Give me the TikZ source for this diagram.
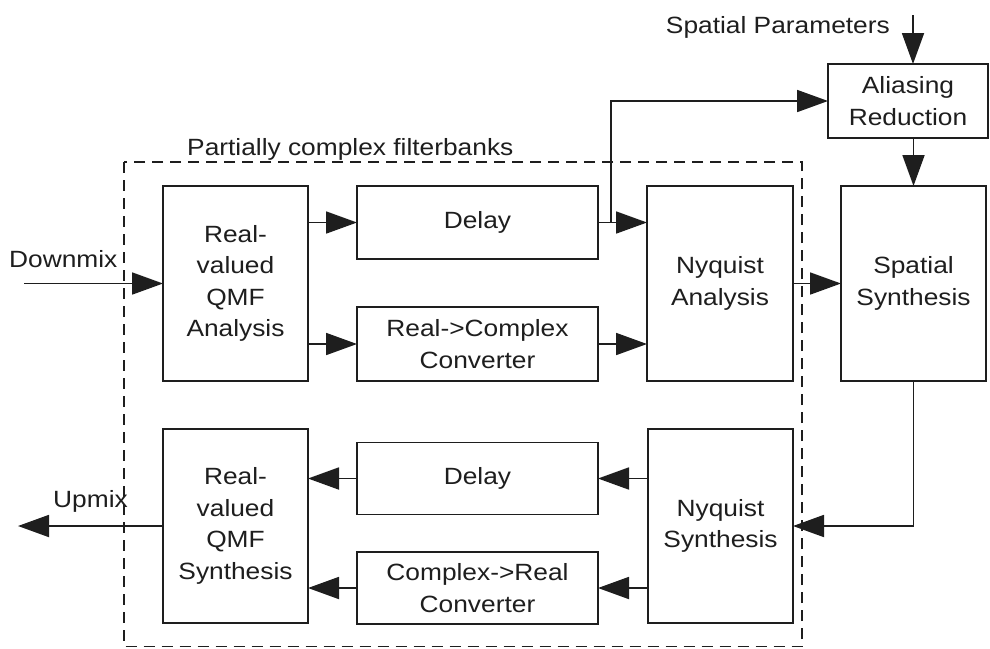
\documentclass[tikz,border=0pt]{standalone}
\usepackage{fontspec}
\setmainfont{Liberation Sans}[FakeStretch=1.12]
\usetikzlibrary{arrows.meta,calc}
\definecolor{ink}{RGB}{30,30,30}
\tikzset{
  blk/.style={draw=ink, line width=1.8pt, inner sep=0pt, outer sep=0pt, align=center, text=ink,
              font=\fontsize{23.5}{31.5}\selectfont},
  lbl/.style={text=ink, inner sep=0pt, font=\fontsize{23.5}{31.5}\selectfont},
  arr/.style={draw=ink, line width=1.8pt, -{Triangle[length=31pt,width=22pt]}},
  dashbox/.style={draw=ink, line width=1.8pt, dash pattern=on 11pt off 7pt}
}
\begin{document}
\begin{tikzpicture}[x=1pt,y=-1pt]
\useasboundingbox[fill=white] (0,0) rectangle (990,648);
% dashed frame
\draw[dashbox] (124,162) rectangle (802,646.5);
\node[lbl, anchor=base west] (lblpcf) at (187,155) {Partially complex filterbanks};
% blocks
\node[blk, minimum width=145pt, minimum height=195pt] (qa) at (235.5,283.5) {Real-\\valued\\QMF\\Analysis};
\node[blk, minimum width=241pt, minimum height=73pt] (d1) at (477.5,222.5) {Delay};
\node[blk, minimum width=241pt, minimum height=74pt] (rc) at (477.5,344) {Real->Complex\\Converter};
\node[blk, minimum width=146pt, minimum height=195pt] (na) at (720,283.5) {Nyquist\\Analysis};
\node[blk, minimum width=160pt, minimum height=74pt] (ar) at (908,101) {Aliasing\\Reduction};
\node[blk, minimum width=145pt, minimum height=195pt] (ss) at (913.5,283.5) {Spatial\\Synthesis};
\node[blk, minimum width=145pt, minimum height=194pt] (ns) at (720.5,526) {Nyquist\\Synthesis};
\node[blk, minimum width=241pt, minimum height=72pt] (d2) at (477.5,478.5) {Delay};
\node[blk, minimum width=241pt, minimum height=72pt] (cr) at (477.5,588) {Complex->Real\\Converter};
\node[blk, minimum width=145pt, minimum height=194pt] (qs) at (235.5,526) {Real-\\valued\\QMF\\Synthesis};
% labels
\node[lbl, anchor=base west] (lbldm) at (9,267) {Downmix};
\node[lbl, anchor=base west] (lblup) at (53,507) {Upmix};
\node[lbl, anchor=base east] (lblsp) at (890,33) {Spatial Parameters};
% free ends
\coordinate (dmin) at (24,283.5);
\coordinate (upout) at (18,526);
\coordinate (spin) at (913,15);
% connectors
\draw[arr] (dmin) -- (qa.west);
\draw[arr] (qa.east |- d1.west) -- (d1.west);
\draw[arr] (qa.east |- rc.west) -- (rc.west);
\draw[arr] (d1.east) -- (na.west |- d1.east);
\draw[arr] ($(d1.east)+(13,0)$) |- (ar.west);
\draw[arr] (rc.east) -- (na.west |- rc.east);
\draw[arr] (na.east) -- (ss.west);
\draw[arr] (spin) -- (spin |- ar.north);
\draw[arr] (ar.south -| ss.north) -- (ss.north);
\draw[arr] (ss.south) |- (ns.east);
\draw[arr] (ns.west |- d2.east) -- (d2.east);
\draw[arr] (ns.west |- cr.east) -- (cr.east);
\draw[arr] (d2.west) -- (qs.east |- d2.west);
\draw[arr] (cr.west) -- (qs.east |- cr.west);
\draw[arr] (qs.west) -- (upout);
\end{tikzpicture}
\end{document}
